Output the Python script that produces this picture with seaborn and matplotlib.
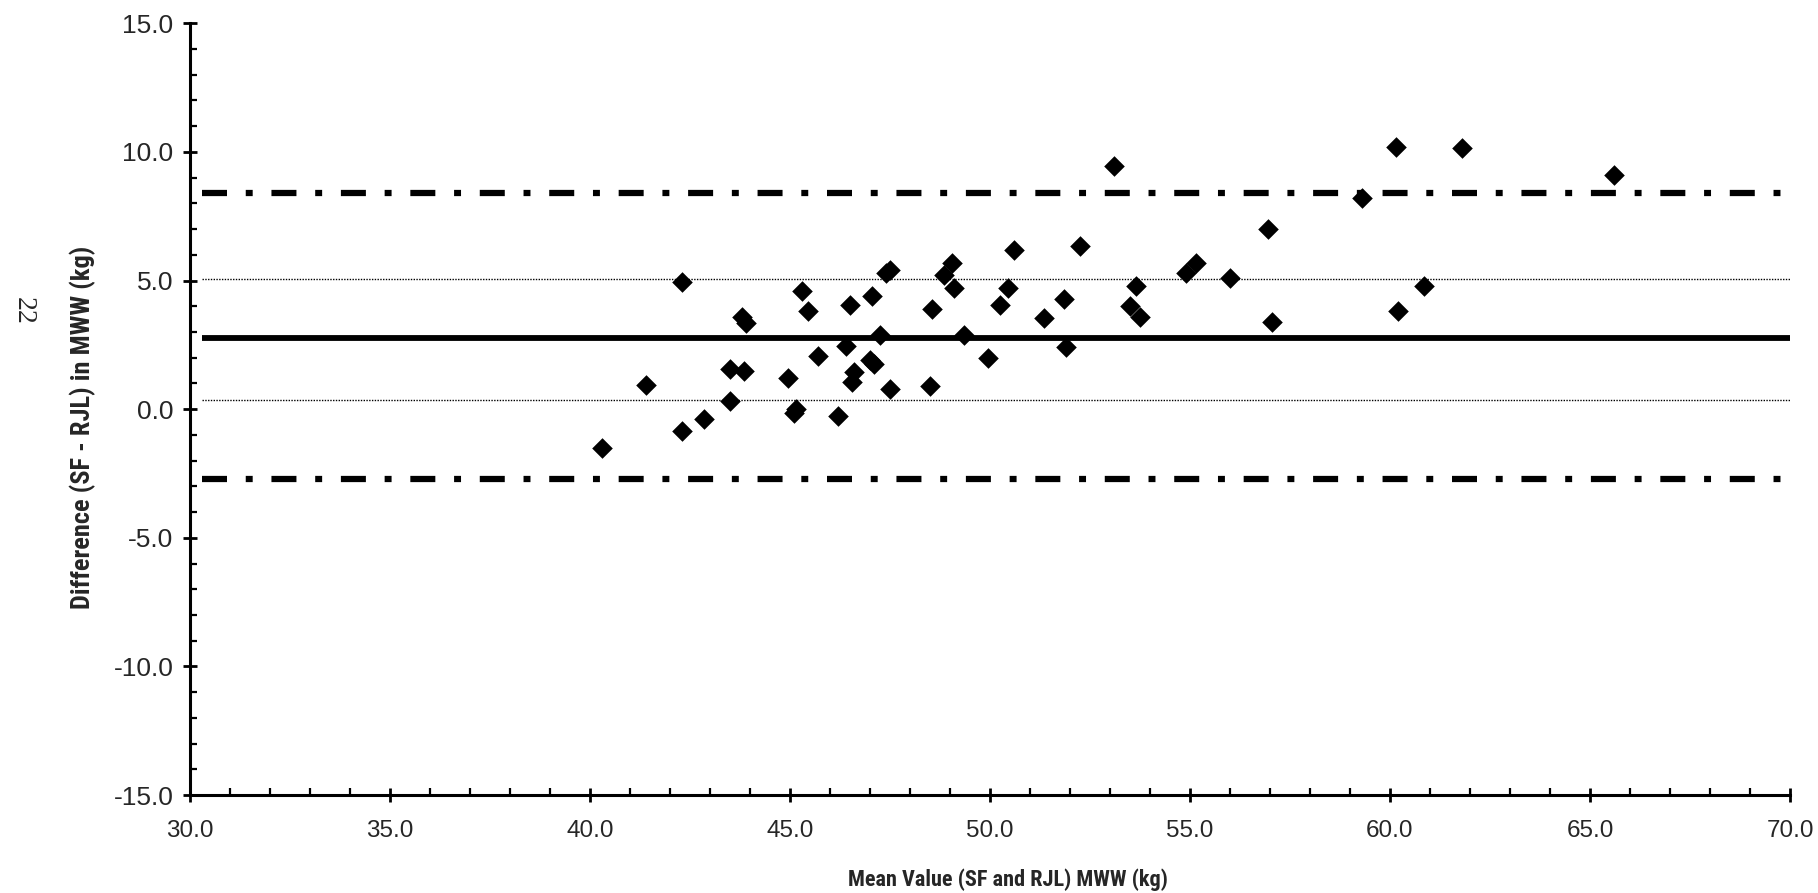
import matplotlib
matplotlib.use("Agg")
import matplotlib.pyplot as plt
import seaborn as sns
from matplotlib import font_manager
from matplotlib.ticker import MultipleLocator, FormatStrFormatter

# Bland-Altman: media vs diferenca (SF - RJL)
mean_value = [40.3, 41.4, 42.3, 42.3, 42.85, 43.5, 43.5, 43.8, 43.9, 43.85,
              44.95, 45.15, 45.1, 45.3, 45.45, 45.7, 46.2, 46.5, 46.4, 46.6,
              46.55, 47.05, 47.0, 47.1, 47.25, 47.4, 47.5, 47.5, 48.55, 48.5,
              48.85, 49.05, 49.1, 49.35, 49.95, 50.25, 50.45, 50.6, 51.35, 51.85,
              51.9, 52.25, 53.1, 53.5, 53.75, 53.65, 54.9, 55.15, 56.0, 56.95,
              57.05, 59.3, 60.15, 60.2, 60.85, 61.8, 65.6]
difference = [-1.5, 0.95, 4.95, -0.85, -0.4, 1.55, 0.3, 3.6, 3.35, 1.5,
              1.2, 0.0, -0.15, 4.6, 3.8, 2.05, -0.25, 4.05, 2.45, 1.45,
              1.05, 4.4, 1.9, 1.75, 2.9, 5.3, 5.4, 0.8, 3.9, 0.9,
              5.2, 5.7, 4.7, 2.9, 2.0, 4.05, 4.7, 6.2, 3.55, 4.3,
              2.4, 6.35, 9.45, 4.0, 3.6, 4.8, 5.3, 5.7, 5.1, 7.0,
              3.4, 8.2, 10.2, 3.8, 4.8, 10.15, 9.1]

mean_diff = 2.76
limits = [8.42, -2.72]      # limites de concordancia
ci_lines = [5.07, 0.35]     # linhas pontilhadas

sns.set_theme(style="white")
plt.rcParams["lines.scale_dashes"] = False

# fonte estreita para os titulos dos eixos, se existir
instaladas = {f.name for f in font_manager.fontManager.ttflist}
estreitas = [n for n in ["Liberation Sans Narrow", "Arial Narrow", "DejaVu Sans Condensed",
                         "Roboto Condensed", "Open Sans Condensed"] if n in instaladas]
tem_estreita = len(estreitas) > 0
label_fam = estreitas[:1] + ["Liberation Sans", "DejaVu Sans"]
plt.rcParams["font.family"] = ["Liberation Sans", "DejaVu Sans"]

fig = plt.figure(figsize=(18.18, 8.93), dpi=100)
ax = fig.add_axes([0.1045, 0.1097, 0.8801, 0.8642])

line_x0, line_x1 = 30.3, 70.0
for yv in limits:
    ax.hlines(yv, line_x0, line_x1, color="black", linewidth=4.5,
              linestyles=[(0, (18, 13.5, 5, 13.5))], capstyle="butt")
for yv in ci_lines:
    ax.hlines(yv, line_x0, line_x1, color="black", linewidth=1.0,
              linestyles=[(0, (1.0, 1.0))])
ax.hlines(mean_diff, line_x0, line_x1, color="black", linewidth=4.2)

sns.scatterplot(x=mean_value, y=difference, marker="D", s=110, color="black",
                linewidth=0, ax=ax, zorder=5)

ax.set_xlim(30, 70)
ax.set_ylim(-15, 15)
ax.xaxis.set_major_locator(MultipleLocator(5))
ax.xaxis.set_minor_locator(MultipleLocator(1))
ax.yaxis.set_major_locator(MultipleLocator(5))
ax.yaxis.set_minor_locator(MultipleLocator(1))
ax.xaxis.set_major_formatter(FormatStrFormatter("%.1f"))
ax.yaxis.set_major_formatter(FormatStrFormatter("%.1f"))

for side in ["top", "right"]:
    ax.spines[side].set_visible(False)
for side in ["left", "bottom"]:
    ax.spines[side].set_color("black")
    ax.spines[side].set_linewidth(2.2)

ax.tick_params(which="major", direction="inout", length=10, width=2, color="black")
ax.tick_params(which="minor", direction="in", length=5, width=1.6, color="black")
ax.tick_params(axis="x", which="major", labelsize=17.5, pad=13)
ax.tick_params(axis="y", which="major", labelsize=19, pad=7)
ax.tick_params(which="both", bottom=True, left=True)

xl_size = 16 if tem_estreita else 13.6
yl_size = 19 if tem_estreita else 16
ax.set_xlabel("Mean Value (SF and RJL) MWW (kg)", fontsize=xl_size, fontweight="bold",
              family=label_fam)
ax.set_ylabel("Difference (SF - RJL) in MWW (kg)", fontsize=yl_size, fontweight="bold",
              family=label_fam)
ax.xaxis.set_label_coords(0.511, -0.095)
ax.yaxis.set_label_coords(-0.0585, 0.477)

# numero da pagina do documento digitalizado
fig.text(0.013, 0.652, "22", rotation=-90, fontsize=20, ha="center", va="center",
         family=["Liberation Serif", "DejaVu Serif"])

fig.savefig("out.png", dpi=100, facecolor="white")
